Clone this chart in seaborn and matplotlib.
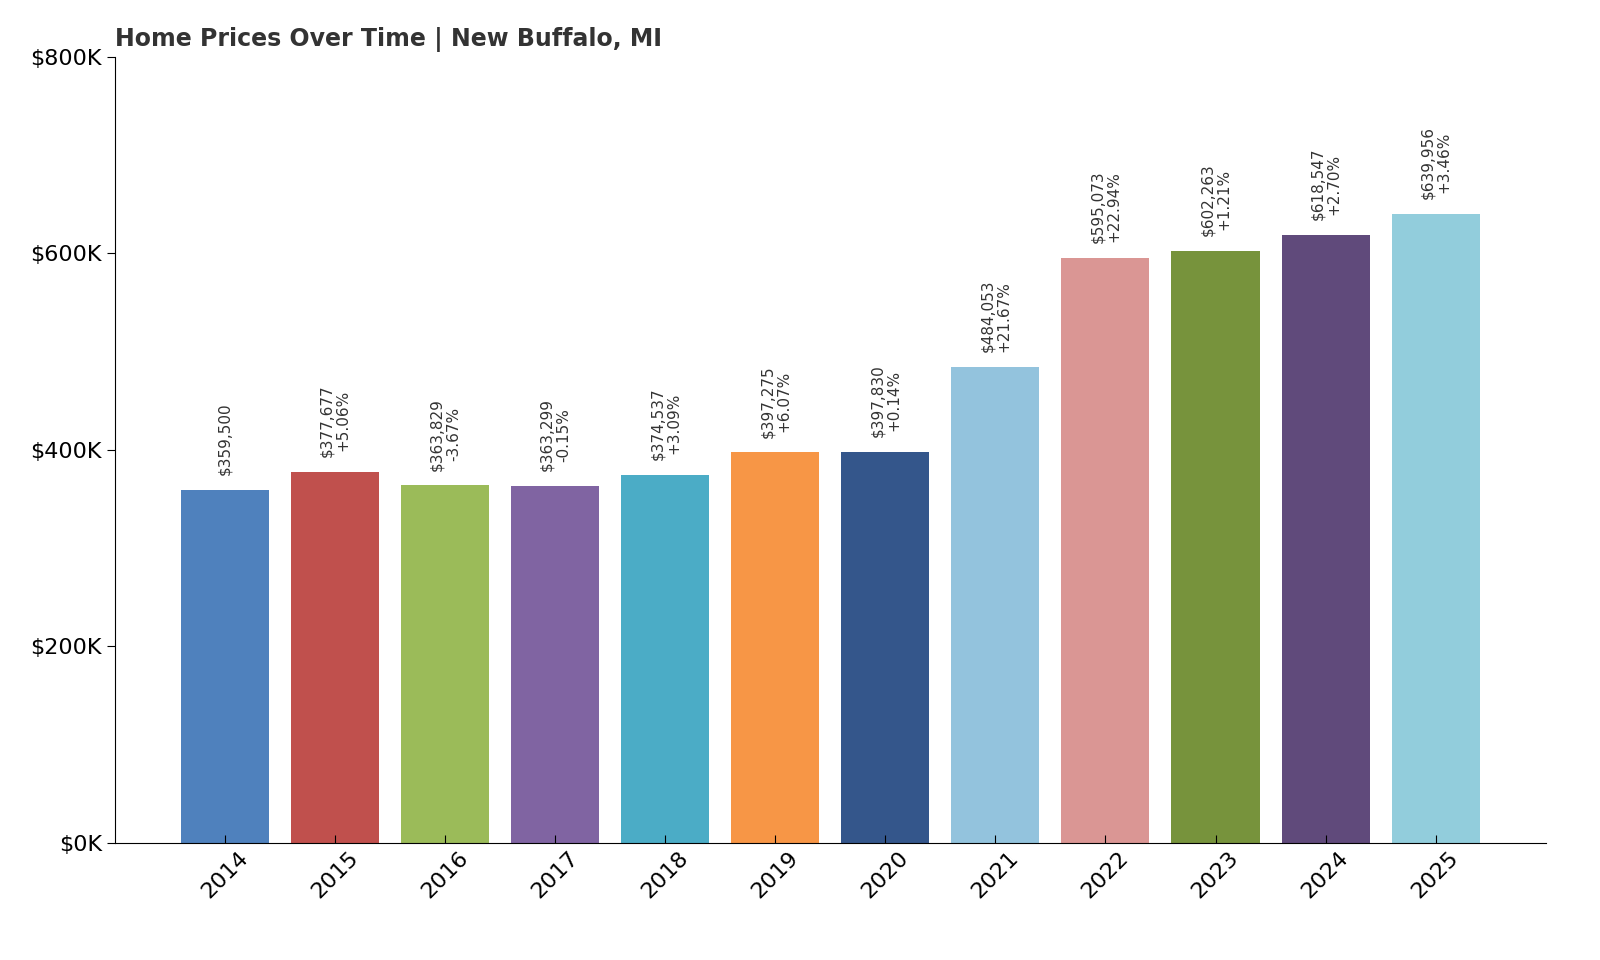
import matplotlib
matplotlib.use("Agg")
import matplotlib.pyplot as plt
import seaborn as sns
import pandas as pd

years = ["2014","2015","2016","2017","2018","2019","2020","2021","2022","2023","2024","2025"]
prices = [359500,377677,363829,363299,374537,397275,397830,484053,595073,602263,618547,639956]
changes = [None,"+5.06%","-3.67%","-0.15%","+3.09%","+6.07%","+0.14%","+21.67%","+22.94%","+1.21%","+2.70%","+3.46%"]
colors = ["#4f81bd","#c0504d","#9bbb59","#8064a2","#4bacc6","#f79646","#34568b","#93c3dd","#da9694","#77933c","#604a7b","#92cddc"]

df = pd.DataFrame({"year": years, "price": prices})
fig = plt.figure(figsize=(16, 9.6), dpi=100)
ax = fig.add_axes([0.072, 0.122, 0.894, 0.819])
sns.barplot(data=df, x="year", y="price", hue="year", palette=colors, legend=False, ax=ax, width=0.8, saturation=1)
ax.set_xlim(-1, 12)
ax.set_ylim(0, 800000)
ax.set_yticks([0,200000,400000,600000,800000])
ax.set_yticklabels(["$0K","$200K","$400K","$600K","$800K"], fontsize=16)
ax.set_xticks(range(len(years)))
ax.set_xticklabels(years, rotation=45, fontsize=16)
ax.tick_params(axis="x", direction="in", length=6)
ax.tick_params(axis="y", direction="out", length=6)
ax.set_xlabel(""); ax.set_ylabel("")
for s in ["top","right"]:
    ax.spines[s].set_visible(False)
for i, (p, c) in enumerate(zip(prices, changes)):
    txt = f"${p:,}" if c is None else f"${p:,}\n{c}"
    ax.text(i, p + 15000, txt, rotation=90, ha="center", va="bottom", fontsize=11, color="#333333", linespacing=1.1)
ax.set_title("Home Prices Over Time | New Buffalo, MI", loc="left", fontsize=17, fontweight="bold", color="#333333", x=0.0, pad=8)
fig.savefig("out.png", dpi=100)
